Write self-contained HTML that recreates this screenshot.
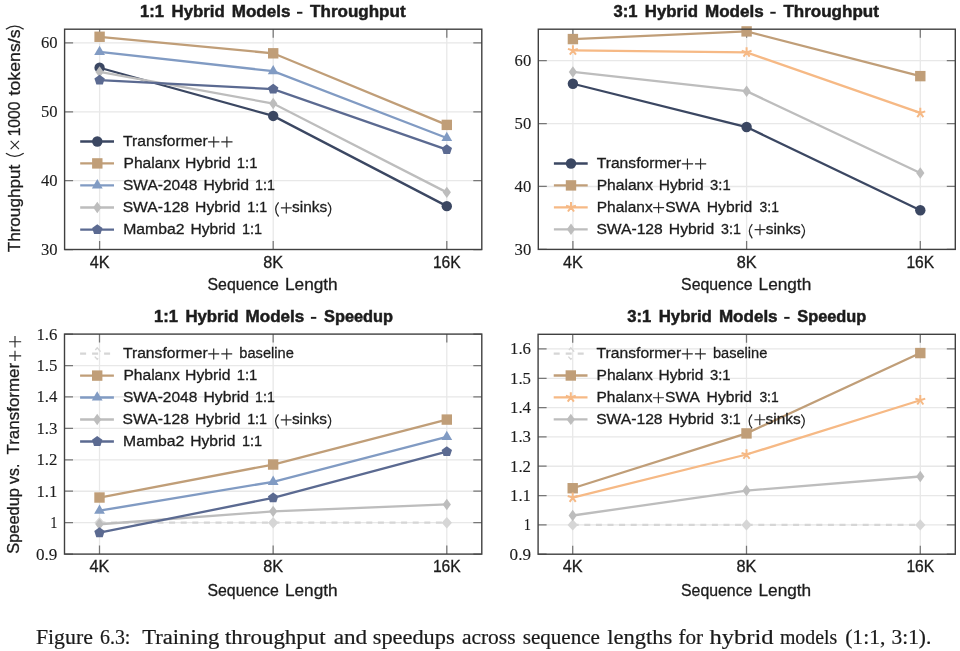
<!DOCTYPE html><html><head><meta charset="utf-8"><style>html,body{margin:0;padding:0;background:#fff;}svg{display:block;will-change:transform;}</style></head><body><svg width="960" height="651" viewBox="0 0 960 651">
<rect width="960" height="651" fill="#fff"/>
<path d="M64.60,180.66H481.80M64.60,111.81H481.80M64.60,42.97H481.80M99.60,29.20V249.50M273.20,29.20V249.50M446.80,29.20V249.50" stroke="#e8e8e8" stroke-width="1.3" fill="none"/>
<path d="M64.60,249.50h8.5M481.80,249.50h-8.5M64.60,180.66h8.5M481.80,180.66h-8.5M64.60,111.81h8.5M481.80,111.81h-8.5M64.60,42.97h8.5M481.80,42.97h-8.5M99.60,249.50v-8.5M99.60,29.20v8.5M273.20,249.50v-8.5M273.20,29.20v8.5M446.80,249.50v-8.5M446.80,29.20v8.5" stroke="#777" stroke-width="1.25" fill="none"/>
<path d="M99.60,67.75 L273.20,115.94 L446.80,206.13" stroke="#3b4762" stroke-width="2.3" fill="none"/>
<circle cx="99.60" cy="67.75" r="5.2" fill="#3b4762"/>
<circle cx="273.20" cy="115.94" r="5.2" fill="#3b4762"/>
<circle cx="446.80" cy="206.13" r="5.2" fill="#3b4762"/>
<path d="M99.60,36.77 L273.20,53.30 L446.80,124.89" stroke="#c09e78" stroke-width="2.3" fill="none"/>
<rect x="94.40" y="31.57" width="10.40" height="10.40" fill="#c09e78"/>
<rect x="268.00" y="48.10" width="10.40" height="10.40" fill="#c09e78"/>
<rect x="441.60" y="119.69" width="10.40" height="10.40" fill="#c09e78"/>
<path d="M99.60,51.92 L273.20,71.19 L446.80,137.97" stroke="#819bc3" stroke-width="2.3" fill="none"/>
<polygon points="99.60,45.68 94.20,55.04 105.00,55.04" fill="#819bc3"/>
<polygon points="273.20,64.95 267.80,74.31 278.60,74.31" fill="#819bc3"/>
<polygon points="446.80,131.73 441.40,141.09 452.20,141.09" fill="#819bc3"/>
<path d="M99.60,71.88 L273.20,103.55 L446.80,192.36" stroke="#bdbdbd" stroke-width="2.3" fill="none"/>
<polygon points="99.60,66.16 103.72,71.88 99.60,77.60 95.48,71.88" fill="#bdbdbd"/>
<polygon points="273.20,97.83 277.32,103.55 273.20,109.27 269.08,103.55" fill="#bdbdbd"/>
<polygon points="446.80,186.64 450.92,192.36 446.80,198.08 442.68,192.36" fill="#bdbdbd"/>
<path d="M99.60,80.14 L273.20,89.09 L446.80,149.68" stroke="#5b6a91" stroke-width="2.3" fill="none"/>
<polygon points="99.60,74.68 104.79,78.46 102.81,84.56 96.39,84.56 94.41,78.46" fill="#5b6a91"/>
<polygon points="273.20,83.63 278.39,87.41 276.41,93.51 269.99,93.51 268.01,87.41" fill="#5b6a91"/>
<polygon points="446.80,144.22 451.99,147.99 450.01,154.09 443.59,154.09 441.61,147.99" fill="#5b6a91"/>
<rect x="64.60" y="29.20" width="417.20" height="220.30" fill="none" stroke="#404040" stroke-width="1.4"/>
<text x="40.90" y="255.00" font-family='"Liberation Serif", serif' font-weight="normal" font-size="16.0" fill="#1c1c1c" stroke="#1c1c1c" stroke-width="0.12" textLength="16.60" lengthAdjust="spacingAndGlyphs">30</text>
<text x="40.90" y="186.16" font-family='"Liberation Serif", serif' font-weight="normal" font-size="16.0" fill="#1c1c1c" stroke="#1c1c1c" stroke-width="0.12" textLength="16.60" lengthAdjust="spacingAndGlyphs">40</text>
<text x="40.90" y="117.31" font-family='"Liberation Serif", serif' font-weight="normal" font-size="16.0" fill="#1c1c1c" stroke="#1c1c1c" stroke-width="0.12" textLength="16.60" lengthAdjust="spacingAndGlyphs">50</text>
<text x="40.90" y="48.47" font-family='"Liberation Serif", serif' font-weight="normal" font-size="16.0" fill="#1c1c1c" stroke="#1c1c1c" stroke-width="0.12" textLength="16.60" lengthAdjust="spacingAndGlyphs">60</text>
<text x="89.67" y="267.80" font-family='"Liberation Sans", sans-serif' font-weight="normal" font-size="16.0" fill="#1c1c1c" stroke="#1c1c1c" stroke-width="0.3" textLength="19.86" lengthAdjust="spacingAndGlyphs">4K</text>
<text x="263.25" y="267.80" font-family='"Liberation Sans", sans-serif' font-weight="normal" font-size="16.0" fill="#1c1c1c" stroke="#1c1c1c" stroke-width="0.3" textLength="19.91" lengthAdjust="spacingAndGlyphs">8K</text>
<text x="432.90" y="267.80" font-family='"Liberation Sans", sans-serif' font-weight="normal" font-size="16.0" fill="#1c1c1c" stroke="#1c1c1c" stroke-width="0.3" textLength="27.79" lengthAdjust="spacingAndGlyphs">16K</text>
<text x="207.50" y="290.40" font-family='"Liberation Sans", sans-serif' font-weight="normal" font-size="16.8" fill="#1c1c1c" stroke="#1c1c1c" stroke-width="0.3" textLength="71.38" lengthAdjust="spacingAndGlyphs">Sequence</text>
<text x="285.00" y="290.40" font-family='"Liberation Sans", sans-serif' font-weight="normal" font-size="16.8" fill="#1c1c1c" stroke="#1c1c1c" stroke-width="0.3" textLength="52.62" lengthAdjust="spacingAndGlyphs">Length</text>
<path d="M80.20,141.50H114.00" stroke="#3b4762" stroke-width="2.3" fill="none"/>
<circle cx="97.30" cy="141.50" r="5.2" fill="#3b4762"/>
<text x="123.05" y="145.80" font-family='"Liberation Sans", sans-serif' font-weight="normal" font-size="15.3" fill="#1c1c1c" stroke="#1c1c1c" stroke-width="0.3" textLength="84.56" lengthAdjust="spacingAndGlyphs">Transformer</text>
<path d="M208.10,141.80H219.40M213.75,136.40V147.40" stroke="#2a2a2a" stroke-width="1.15" fill="none"/>
<path d="M221.25,141.80H232.50M226.88,136.40V147.40" stroke="#2a2a2a" stroke-width="1.15" fill="none"/>
<path d="M80.20,163.40H114.00" stroke="#c09e78" stroke-width="2.3" fill="none"/>
<rect x="92.10" y="158.20" width="10.40" height="10.40" fill="#c09e78"/>
<text x="123.50" y="167.70" font-family='"Liberation Sans", sans-serif' font-weight="normal" font-size="15.3" fill="#1c1c1c" stroke="#1c1c1c" stroke-width="0.3" textLength="56.38" lengthAdjust="spacingAndGlyphs">Phalanx</text>
<text x="185.10" y="167.70" font-family='"Liberation Sans", sans-serif' font-weight="normal" font-size="15.3" fill="#1c1c1c" stroke="#1c1c1c" stroke-width="0.3" textLength="45.60" lengthAdjust="spacingAndGlyphs">Hybrid</text>
<text x="236.80" y="167.70" font-family='"Liberation Sans", sans-serif' font-weight="normal" font-size="15.3" fill="#1c1c1c" stroke="#1c1c1c" stroke-width="0.3" textLength="20.60" lengthAdjust="spacingAndGlyphs">1:1</text>
<path d="M80.20,185.30H114.00" stroke="#819bc3" stroke-width="2.3" fill="none"/>
<polygon points="97.30,179.06 91.90,188.42 102.70,188.42" fill="#819bc3"/>
<text x="123.00" y="189.60" font-family='"Liberation Sans", sans-serif' font-weight="normal" font-size="15.3" fill="#1c1c1c" stroke="#1c1c1c" stroke-width="0.3" textLength="74.41" lengthAdjust="spacingAndGlyphs">SWA-2048</text>
<text x="203.50" y="189.60" font-family='"Liberation Sans", sans-serif' font-weight="normal" font-size="15.3" fill="#1c1c1c" stroke="#1c1c1c" stroke-width="0.3" textLength="45.50" lengthAdjust="spacingAndGlyphs">Hybrid</text>
<text x="255.10" y="189.60" font-family='"Liberation Sans", sans-serif' font-weight="normal" font-size="15.3" fill="#1c1c1c" stroke="#1c1c1c" stroke-width="0.3" textLength="19.80" lengthAdjust="spacingAndGlyphs">1:1</text>
<path d="M80.20,207.50H114.00" stroke="#bdbdbd" stroke-width="2.3" fill="none"/>
<polygon points="97.30,201.78 101.42,207.50 97.30,213.22 93.18,207.50" fill="#bdbdbd"/>
<text x="122.70" y="211.80" font-family='"Liberation Sans", sans-serif' font-weight="normal" font-size="15.3" fill="#1c1c1c" stroke="#1c1c1c" stroke-width="0.3" textLength="66.40" lengthAdjust="spacingAndGlyphs">SWA-128</text>
<text x="195.10" y="211.80" font-family='"Liberation Sans", sans-serif' font-weight="normal" font-size="15.3" fill="#1c1c1c" stroke="#1c1c1c" stroke-width="0.3" textLength="45.40" lengthAdjust="spacingAndGlyphs">Hybrid</text>
<text x="247.30" y="211.80" font-family='"Liberation Sans", sans-serif' font-weight="normal" font-size="15.3" fill="#1c1c1c" stroke="#1c1c1c" stroke-width="0.3" textLength="19.80" lengthAdjust="spacingAndGlyphs">1:1</text>
<path d="M278.60,202.40Q272.60,209.45 278.60,216.50" stroke="#262626" stroke-width="1.25" fill="none"/>
<path d="M280.90,207.80H291.70M286.30,202.40V213.40" stroke="#2a2a2a" stroke-width="1.15" fill="none"/>
<text x="292.00" y="211.80" font-family='"Liberation Sans", sans-serif' font-weight="normal" font-size="15.3" fill="#1c1c1c" stroke="#1c1c1c" stroke-width="0.3" textLength="35.11" lengthAdjust="spacingAndGlyphs">sinks</text>
<path d="M327.80,202.40Q334.00,209.45 327.80,216.50" stroke="#262626" stroke-width="1.25" fill="none"/>
<path d="M80.20,229.60H114.00" stroke="#5b6a91" stroke-width="2.3" fill="none"/>
<polygon points="97.30,224.14 102.49,227.91 100.51,234.02 94.09,234.02 92.11,227.91" fill="#5b6a91"/>
<text x="123.20" y="233.90" font-family='"Liberation Sans", sans-serif' font-weight="normal" font-size="15.3" fill="#1c1c1c" stroke="#1c1c1c" stroke-width="0.3" textLength="61.26" lengthAdjust="spacingAndGlyphs">Mamba2</text>
<text x="190.40" y="233.90" font-family='"Liberation Sans", sans-serif' font-weight="normal" font-size="15.3" fill="#1c1c1c" stroke="#1c1c1c" stroke-width="0.3" textLength="45.10" lengthAdjust="spacingAndGlyphs">Hybrid</text>
<text x="242.00" y="233.90" font-family='"Liberation Sans", sans-serif' font-weight="normal" font-size="15.3" fill="#1c1c1c" stroke="#1c1c1c" stroke-width="0.3" textLength="20.10" lengthAdjust="spacingAndGlyphs">1:1</text>
<path d="M538.30,186.49H955.30M538.30,123.57H955.30M538.30,60.66H955.30M572.90,29.20V249.40M746.60,29.20V249.40M920.30,29.20V249.40" stroke="#e8e8e8" stroke-width="1.3" fill="none"/>
<path d="M538.30,249.40h8.5M955.30,249.40h-8.5M538.30,186.49h8.5M955.30,186.49h-8.5M538.30,123.57h8.5M955.30,123.57h-8.5M538.30,60.66h8.5M955.30,60.66h-8.5M572.90,249.40v-8.5M572.90,29.20v8.5M746.60,249.40v-8.5M746.60,29.20v8.5M920.30,249.40v-8.5M920.30,29.20v8.5" stroke="#777" stroke-width="1.25" fill="none"/>
<path d="M572.90,83.75 L746.60,127.03 L920.30,210.20" stroke="#3b4762" stroke-width="2.3" fill="none"/>
<circle cx="572.90" cy="83.75" r="5.2" fill="#3b4762"/>
<circle cx="746.60" cy="127.03" r="5.2" fill="#3b4762"/>
<circle cx="920.30" cy="210.20" r="5.2" fill="#3b4762"/>
<path d="M572.90,39.08 L746.60,31.40 L920.30,76.13" stroke="#c09e78" stroke-width="2.3" fill="none"/>
<rect x="567.70" y="33.88" width="10.40" height="10.40" fill="#c09e78"/>
<rect x="741.40" y="26.20" width="10.40" height="10.40" fill="#c09e78"/>
<rect x="915.10" y="70.93" width="10.40" height="10.40" fill="#c09e78"/>
<path d="M572.90,50.47 L746.60,52.35 L920.30,112.94" stroke="#f6b985" stroke-width="2.3" fill="none"/>
<path d="M572.90,50.47L572.90,45.27M572.90,50.47L577.85,48.86M572.90,50.47L575.96,54.67M572.90,50.47L569.84,54.67M572.90,50.47L567.95,48.86" stroke="#f6b985" stroke-width="2.0" fill="none"/>
<path d="M746.60,52.35L746.60,47.15M746.60,52.35L751.55,50.75M746.60,52.35L749.66,56.56M746.60,52.35L743.54,56.56M746.60,52.35L741.65,50.75" stroke="#f6b985" stroke-width="2.0" fill="none"/>
<path d="M920.30,112.94L920.30,107.74M920.30,112.94L925.25,111.33M920.30,112.94L923.36,117.15M920.30,112.94L917.24,117.15M920.30,112.94L915.35,111.33" stroke="#f6b985" stroke-width="2.0" fill="none"/>
<path d="M572.90,71.98 L746.60,91.17 L920.30,173.08" stroke="#bdbdbd" stroke-width="2.3" fill="none"/>
<polygon points="572.90,66.26 577.02,71.98 572.90,77.70 568.78,71.98" fill="#bdbdbd"/>
<polygon points="746.60,85.45 750.72,91.17 746.60,96.89 742.48,91.17" fill="#bdbdbd"/>
<polygon points="920.30,167.36 924.42,173.08 920.30,178.80 916.18,173.08" fill="#bdbdbd"/>
<rect x="538.30" y="29.20" width="417.00" height="220.20" fill="none" stroke="#404040" stroke-width="1.4"/>
<text x="514.60" y="254.90" font-family='"Liberation Serif", serif' font-weight="normal" font-size="16.0" fill="#1c1c1c" stroke="#1c1c1c" stroke-width="0.12" textLength="16.60" lengthAdjust="spacingAndGlyphs">30</text>
<text x="514.60" y="191.99" font-family='"Liberation Serif", serif' font-weight="normal" font-size="16.0" fill="#1c1c1c" stroke="#1c1c1c" stroke-width="0.12" textLength="16.60" lengthAdjust="spacingAndGlyphs">40</text>
<text x="514.60" y="129.07" font-family='"Liberation Serif", serif' font-weight="normal" font-size="16.0" fill="#1c1c1c" stroke="#1c1c1c" stroke-width="0.12" textLength="16.60" lengthAdjust="spacingAndGlyphs">50</text>
<text x="514.60" y="66.16" font-family='"Liberation Serif", serif' font-weight="normal" font-size="16.0" fill="#1c1c1c" stroke="#1c1c1c" stroke-width="0.12" textLength="16.60" lengthAdjust="spacingAndGlyphs">60</text>
<text x="562.97" y="267.80" font-family='"Liberation Sans", sans-serif' font-weight="normal" font-size="16.0" fill="#1c1c1c" stroke="#1c1c1c" stroke-width="0.3" textLength="19.86" lengthAdjust="spacingAndGlyphs">4K</text>
<text x="736.65" y="267.80" font-family='"Liberation Sans", sans-serif' font-weight="normal" font-size="16.0" fill="#1c1c1c" stroke="#1c1c1c" stroke-width="0.3" textLength="19.91" lengthAdjust="spacingAndGlyphs">8K</text>
<text x="906.40" y="267.80" font-family='"Liberation Sans", sans-serif' font-weight="normal" font-size="16.0" fill="#1c1c1c" stroke="#1c1c1c" stroke-width="0.3" textLength="27.79" lengthAdjust="spacingAndGlyphs">16K</text>
<text x="681.10" y="290.40" font-family='"Liberation Sans", sans-serif' font-weight="normal" font-size="16.8" fill="#1c1c1c" stroke="#1c1c1c" stroke-width="0.3" textLength="71.38" lengthAdjust="spacingAndGlyphs">Sequence</text>
<text x="758.60" y="290.40" font-family='"Liberation Sans", sans-serif' font-weight="normal" font-size="16.8" fill="#1c1c1c" stroke="#1c1c1c" stroke-width="0.3" textLength="52.62" lengthAdjust="spacingAndGlyphs">Length</text>
<path d="M553.90,163.50H587.70" stroke="#3b4762" stroke-width="2.3" fill="none"/>
<circle cx="571.00" cy="163.50" r="5.2" fill="#3b4762"/>
<text x="596.75" y="167.80" font-family='"Liberation Sans", sans-serif' font-weight="normal" font-size="15.3" fill="#1c1c1c" stroke="#1c1c1c" stroke-width="0.3" textLength="84.56" lengthAdjust="spacingAndGlyphs">Transformer</text>
<path d="M681.80,163.80H693.10M687.45,158.40V169.40" stroke="#2a2a2a" stroke-width="1.15" fill="none"/>
<path d="M694.95,163.80H706.20M700.57,158.40V169.40" stroke="#2a2a2a" stroke-width="1.15" fill="none"/>
<path d="M553.90,185.40H587.70" stroke="#c09e78" stroke-width="2.3" fill="none"/>
<rect x="565.80" y="180.20" width="10.40" height="10.40" fill="#c09e78"/>
<text x="596.70" y="189.70" font-family='"Liberation Sans", sans-serif' font-weight="normal" font-size="15.3" fill="#1c1c1c" stroke="#1c1c1c" stroke-width="0.3" textLength="56.38" lengthAdjust="spacingAndGlyphs">Phalanx</text>
<text x="658.70" y="189.70" font-family='"Liberation Sans", sans-serif' font-weight="normal" font-size="15.3" fill="#1c1c1c" stroke="#1c1c1c" stroke-width="0.3" textLength="44.90" lengthAdjust="spacingAndGlyphs">Hybrid</text>
<text x="710.10" y="189.70" font-family='"Liberation Sans", sans-serif' font-weight="normal" font-size="15.3" fill="#1c1c1c" stroke="#1c1c1c" stroke-width="0.3" textLength="20.60" lengthAdjust="spacingAndGlyphs">3:1</text>
<path d="M553.90,207.30H587.70" stroke="#f6b985" stroke-width="2.3" fill="none"/>
<path d="M571.00,207.30L571.00,202.10M571.00,207.30L575.95,205.69M571.00,207.30L574.06,211.51M571.00,207.30L567.94,211.51M571.00,207.30L566.05,205.69" stroke="#f6b985" stroke-width="2.0" fill="none"/>
<text x="596.70" y="211.60" font-family='"Liberation Sans", sans-serif' font-weight="normal" font-size="15.3" fill="#1c1c1c" stroke="#1c1c1c" stroke-width="0.3" textLength="55.98" lengthAdjust="spacingAndGlyphs">Phalanx</text>
<path d="M653.10,207.60H664.10M658.60,202.20V213.20" stroke="#2a2a2a" stroke-width="1.15" fill="none"/>
<text x="665.20" y="211.60" font-family='"Liberation Sans", sans-serif' font-weight="normal" font-size="15.3" fill="#1c1c1c" stroke="#1c1c1c" stroke-width="0.3" textLength="34.97" lengthAdjust="spacingAndGlyphs">SWA</text>
<text x="706.80" y="211.60" font-family='"Liberation Sans", sans-serif' font-weight="normal" font-size="15.3" fill="#1c1c1c" stroke="#1c1c1c" stroke-width="0.3" textLength="45.30" lengthAdjust="spacingAndGlyphs">Hybrid</text>
<text x="759.60" y="211.60" font-family='"Liberation Sans", sans-serif' font-weight="normal" font-size="15.3" fill="#1c1c1c" stroke="#1c1c1c" stroke-width="0.3" textLength="19.30" lengthAdjust="spacingAndGlyphs">3:1</text>
<path d="M553.90,229.30H587.70" stroke="#bdbdbd" stroke-width="2.3" fill="none"/>
<polygon points="571.00,223.58 575.12,229.30 571.00,235.02 566.88,229.30" fill="#bdbdbd"/>
<text x="596.40" y="233.60" font-family='"Liberation Sans", sans-serif' font-weight="normal" font-size="15.3" fill="#1c1c1c" stroke="#1c1c1c" stroke-width="0.3" textLength="66.40" lengthAdjust="spacingAndGlyphs">SWA-128</text>
<text x="668.80" y="233.60" font-family='"Liberation Sans", sans-serif' font-weight="normal" font-size="15.3" fill="#1c1c1c" stroke="#1c1c1c" stroke-width="0.3" textLength="45.40" lengthAdjust="spacingAndGlyphs">Hybrid</text>
<text x="721.00" y="233.60" font-family='"Liberation Sans", sans-serif' font-weight="normal" font-size="15.3" fill="#1c1c1c" stroke="#1c1c1c" stroke-width="0.3" textLength="19.80" lengthAdjust="spacingAndGlyphs">3:1</text>
<path d="M752.30,224.20Q746.30,231.25 752.30,238.30" stroke="#262626" stroke-width="1.25" fill="none"/>
<path d="M754.60,229.60H765.40M760.00,224.20V235.20" stroke="#2a2a2a" stroke-width="1.15" fill="none"/>
<text x="765.70" y="233.60" font-family='"Liberation Sans", sans-serif' font-weight="normal" font-size="15.3" fill="#1c1c1c" stroke="#1c1c1c" stroke-width="0.3" textLength="35.11" lengthAdjust="spacingAndGlyphs">sinks</text>
<path d="M801.50,224.20Q807.70,231.25 801.50,238.30" stroke="#262626" stroke-width="1.25" fill="none"/>
<path d="M64.50,522.67H481.80M64.50,491.24H481.80M64.50,459.81H481.80M64.50,428.39H481.80M64.50,396.96H481.80M64.50,365.53H481.80M99.50,334.10V554.10M273.15,334.10V554.10M446.80,334.10V554.10" stroke="#e8e8e8" stroke-width="1.3" fill="none"/>
<path d="M64.50,554.10h8.5M481.80,554.10h-8.5M64.50,522.67h8.5M481.80,522.67h-8.5M64.50,491.24h8.5M481.80,491.24h-8.5M64.50,459.81h8.5M481.80,459.81h-8.5M64.50,428.39h8.5M481.80,428.39h-8.5M64.50,396.96h8.5M481.80,396.96h-8.5M64.50,365.53h8.5M481.80,365.53h-8.5M64.50,334.10h8.5M481.80,334.10h-8.5M99.50,554.10v-8.5M99.50,334.10v8.5M273.15,554.10v-8.5M273.15,334.10v8.5M446.80,554.10v-8.5M446.80,334.10v8.5" stroke="#777" stroke-width="1.25" fill="none"/>
<path d="M99.50,522.67 L273.15,522.67 L446.80,522.67" stroke="#d6d6d6" stroke-width="2.3" fill="none" stroke-dasharray="6,5.6"/>
<polygon points="99.50,516.95 104.65,522.67 99.50,528.39 94.35,522.67" fill="#d6d6d6"/>
<polygon points="273.15,516.95 278.30,522.67 273.15,528.39 268.00,522.67" fill="#d6d6d6"/>
<polygon points="446.80,516.95 451.95,522.67 446.80,528.39 441.65,522.67" fill="#d6d6d6"/>
<path d="M99.50,497.53 L273.15,464.53 L446.80,419.59" stroke="#c09e78" stroke-width="2.3" fill="none"/>
<rect x="94.30" y="492.33" width="10.40" height="10.40" fill="#c09e78"/>
<rect x="267.95" y="459.33" width="10.40" height="10.40" fill="#c09e78"/>
<rect x="441.60" y="414.39" width="10.40" height="10.40" fill="#c09e78"/>
<path d="M99.50,510.73 L273.15,481.81 L446.80,436.87" stroke="#819bc3" stroke-width="2.3" fill="none"/>
<polygon points="99.50,504.49 94.10,513.85 104.90,513.85" fill="#819bc3"/>
<polygon points="273.15,475.57 267.75,484.93 278.55,484.93" fill="#819bc3"/>
<polygon points="446.80,430.63 441.40,439.99 452.20,439.99" fill="#819bc3"/>
<path d="M99.50,524.24 L273.15,511.36 L446.80,504.44" stroke="#bdbdbd" stroke-width="2.3" fill="none"/>
<polygon points="99.50,518.52 103.62,524.24 99.50,529.96 95.38,524.24" fill="#bdbdbd"/>
<polygon points="273.15,505.64 277.27,511.36 273.15,517.08 269.03,511.36" fill="#bdbdbd"/>
<polygon points="446.80,498.72 450.92,504.44 446.80,510.16 442.68,504.44" fill="#bdbdbd"/>
<path d="M99.50,532.73 L273.15,497.84 L446.80,451.64" stroke="#5b6a91" stroke-width="2.3" fill="none"/>
<polygon points="99.50,527.27 104.69,531.04 102.71,537.15 96.29,537.15 94.31,531.04" fill="#5b6a91"/>
<polygon points="273.15,492.38 278.34,496.16 276.36,502.26 269.94,502.26 267.96,496.16" fill="#5b6a91"/>
<polygon points="446.80,446.18 451.99,449.96 450.01,456.06 443.59,456.06 441.61,449.96" fill="#5b6a91"/>
<rect x="64.50" y="334.10" width="417.30" height="220.00" fill="none" stroke="#404040" stroke-width="1.4"/>
<text x="36.00" y="559.60" font-family='"Liberation Serif", serif' font-weight="normal" font-size="16.0" fill="#1c1c1c" stroke="#1c1c1c" stroke-width="0.12" textLength="21.40" lengthAdjust="spacingAndGlyphs">0.9</text>
<text x="50.20" y="528.17" font-family='"Liberation Serif", serif' font-weight="normal" font-size="16.0" fill="#1c1c1c" stroke="#1c1c1c" stroke-width="0.12" textLength="7.20" lengthAdjust="spacingAndGlyphs">1</text>
<text x="36.40" y="496.74" font-family='"Liberation Serif", serif' font-weight="normal" font-size="16.0" fill="#1c1c1c" stroke="#1c1c1c" stroke-width="0.12" textLength="21.00" lengthAdjust="spacingAndGlyphs">1.1</text>
<text x="36.40" y="465.31" font-family='"Liberation Serif", serif' font-weight="normal" font-size="16.0" fill="#1c1c1c" stroke="#1c1c1c" stroke-width="0.12" textLength="21.00" lengthAdjust="spacingAndGlyphs">1.2</text>
<text x="36.40" y="433.89" font-family='"Liberation Serif", serif' font-weight="normal" font-size="16.0" fill="#1c1c1c" stroke="#1c1c1c" stroke-width="0.12" textLength="21.00" lengthAdjust="spacingAndGlyphs">1.3</text>
<text x="36.40" y="402.46" font-family='"Liberation Serif", serif' font-weight="normal" font-size="16.0" fill="#1c1c1c" stroke="#1c1c1c" stroke-width="0.12" textLength="21.00" lengthAdjust="spacingAndGlyphs">1.4</text>
<text x="36.40" y="371.03" font-family='"Liberation Serif", serif' font-weight="normal" font-size="16.0" fill="#1c1c1c" stroke="#1c1c1c" stroke-width="0.12" textLength="21.00" lengthAdjust="spacingAndGlyphs">1.5</text>
<text x="36.40" y="339.60" font-family='"Liberation Serif", serif' font-weight="normal" font-size="16.0" fill="#1c1c1c" stroke="#1c1c1c" stroke-width="0.12" textLength="21.00" lengthAdjust="spacingAndGlyphs">1.6</text>
<text x="89.58" y="572.20" font-family='"Liberation Sans", sans-serif' font-weight="normal" font-size="16.0" fill="#1c1c1c" stroke="#1c1c1c" stroke-width="0.3" textLength="19.86" lengthAdjust="spacingAndGlyphs">4K</text>
<text x="263.20" y="572.20" font-family='"Liberation Sans", sans-serif' font-weight="normal" font-size="16.0" fill="#1c1c1c" stroke="#1c1c1c" stroke-width="0.3" textLength="19.91" lengthAdjust="spacingAndGlyphs">8K</text>
<text x="432.90" y="572.20" font-family='"Liberation Sans", sans-serif' font-weight="normal" font-size="16.0" fill="#1c1c1c" stroke="#1c1c1c" stroke-width="0.3" textLength="27.79" lengthAdjust="spacingAndGlyphs">16K</text>
<text x="207.45" y="595.50" font-family='"Liberation Sans", sans-serif' font-weight="normal" font-size="16.8" fill="#1c1c1c" stroke="#1c1c1c" stroke-width="0.3" textLength="71.38" lengthAdjust="spacingAndGlyphs">Sequence</text>
<text x="284.95" y="595.50" font-family='"Liberation Sans", sans-serif' font-weight="normal" font-size="16.8" fill="#1c1c1c" stroke="#1c1c1c" stroke-width="0.3" textLength="52.62" lengthAdjust="spacingAndGlyphs">Length</text>
<path d="M80.10,353.60H113.90" stroke="#d6d6d6" stroke-width="2.3" fill="none" stroke-dasharray="6,6"/>
<polygon points="97.20,347.88 102.35,353.60 97.20,359.32 92.05,353.60" fill="none" stroke="#d6d6d6" stroke-width="1.4" stroke-dasharray="5,9"/>
<text x="122.95" y="357.90" font-family='"Liberation Sans", sans-serif' font-weight="normal" font-size="15.3" fill="#1c1c1c" stroke="#1c1c1c" stroke-width="0.3" textLength="84.76" lengthAdjust="spacingAndGlyphs">Transformer</text>
<path d="M208.20,353.90H219.20M213.70,348.50V359.50" stroke="#2a2a2a" stroke-width="1.15" fill="none"/>
<path d="M221.30,353.90H232.20M226.75,348.50V359.50" stroke="#2a2a2a" stroke-width="1.15" fill="none"/>
<text x="239.30" y="357.90" font-family='"Liberation Sans", sans-serif' font-weight="normal" font-size="15.3" fill="#1c1c1c" stroke="#1c1c1c" stroke-width="0.3" textLength="54.50" lengthAdjust="spacingAndGlyphs">baseline</text>
<path d="M80.10,375.60H113.90" stroke="#c09e78" stroke-width="2.3" fill="none"/>
<rect x="92.00" y="370.40" width="10.40" height="10.40" fill="#c09e78"/>
<text x="123.40" y="379.90" font-family='"Liberation Sans", sans-serif' font-weight="normal" font-size="15.3" fill="#1c1c1c" stroke="#1c1c1c" stroke-width="0.3" textLength="56.38" lengthAdjust="spacingAndGlyphs">Phalanx</text>
<text x="185.00" y="379.90" font-family='"Liberation Sans", sans-serif' font-weight="normal" font-size="15.3" fill="#1c1c1c" stroke="#1c1c1c" stroke-width="0.3" textLength="45.60" lengthAdjust="spacingAndGlyphs">Hybrid</text>
<text x="236.70" y="379.90" font-family='"Liberation Sans", sans-serif' font-weight="normal" font-size="15.3" fill="#1c1c1c" stroke="#1c1c1c" stroke-width="0.3" textLength="20.60" lengthAdjust="spacingAndGlyphs">1:1</text>
<path d="M80.10,397.50H113.90" stroke="#819bc3" stroke-width="2.3" fill="none"/>
<polygon points="97.20,391.26 91.80,400.62 102.60,400.62" fill="#819bc3"/>
<text x="122.90" y="401.80" font-family='"Liberation Sans", sans-serif' font-weight="normal" font-size="15.3" fill="#1c1c1c" stroke="#1c1c1c" stroke-width="0.3" textLength="74.41" lengthAdjust="spacingAndGlyphs">SWA-2048</text>
<text x="203.40" y="401.80" font-family='"Liberation Sans", sans-serif' font-weight="normal" font-size="15.3" fill="#1c1c1c" stroke="#1c1c1c" stroke-width="0.3" textLength="45.50" lengthAdjust="spacingAndGlyphs">Hybrid</text>
<text x="255.00" y="401.80" font-family='"Liberation Sans", sans-serif' font-weight="normal" font-size="15.3" fill="#1c1c1c" stroke="#1c1c1c" stroke-width="0.3" textLength="19.80" lengthAdjust="spacingAndGlyphs">1:1</text>
<path d="M80.10,419.50H113.90" stroke="#bdbdbd" stroke-width="2.3" fill="none"/>
<polygon points="97.20,413.78 101.32,419.50 97.20,425.22 93.08,419.50" fill="#bdbdbd"/>
<text x="122.60" y="423.80" font-family='"Liberation Sans", sans-serif' font-weight="normal" font-size="15.3" fill="#1c1c1c" stroke="#1c1c1c" stroke-width="0.3" textLength="66.40" lengthAdjust="spacingAndGlyphs">SWA-128</text>
<text x="195.00" y="423.80" font-family='"Liberation Sans", sans-serif' font-weight="normal" font-size="15.3" fill="#1c1c1c" stroke="#1c1c1c" stroke-width="0.3" textLength="45.40" lengthAdjust="spacingAndGlyphs">Hybrid</text>
<text x="247.20" y="423.80" font-family='"Liberation Sans", sans-serif' font-weight="normal" font-size="15.3" fill="#1c1c1c" stroke="#1c1c1c" stroke-width="0.3" textLength="19.80" lengthAdjust="spacingAndGlyphs">1:1</text>
<path d="M278.50,414.40Q272.50,421.45 278.50,428.50" stroke="#262626" stroke-width="1.25" fill="none"/>
<path d="M280.80,419.80H291.60M286.20,414.40V425.40" stroke="#2a2a2a" stroke-width="1.15" fill="none"/>
<text x="291.90" y="423.80" font-family='"Liberation Sans", sans-serif' font-weight="normal" font-size="15.3" fill="#1c1c1c" stroke="#1c1c1c" stroke-width="0.3" textLength="35.11" lengthAdjust="spacingAndGlyphs">sinks</text>
<path d="M327.70,414.40Q333.90,421.45 327.70,428.50" stroke="#262626" stroke-width="1.25" fill="none"/>
<path d="M80.10,441.50H113.90" stroke="#5b6a91" stroke-width="2.3" fill="none"/>
<polygon points="97.20,436.04 102.39,439.81 100.41,445.92 93.99,445.92 92.01,439.81" fill="#5b6a91"/>
<text x="123.10" y="445.80" font-family='"Liberation Sans", sans-serif' font-weight="normal" font-size="15.3" fill="#1c1c1c" stroke="#1c1c1c" stroke-width="0.3" textLength="61.26" lengthAdjust="spacingAndGlyphs">Mamba2</text>
<text x="190.30" y="445.80" font-family='"Liberation Sans", sans-serif' font-weight="normal" font-size="15.3" fill="#1c1c1c" stroke="#1c1c1c" stroke-width="0.3" textLength="45.10" lengthAdjust="spacingAndGlyphs">Hybrid</text>
<text x="241.90" y="445.80" font-family='"Liberation Sans", sans-serif' font-weight="normal" font-size="15.3" fill="#1c1c1c" stroke="#1c1c1c" stroke-width="0.3" textLength="20.10" lengthAdjust="spacingAndGlyphs">1:1</text>
<path d="M538.10,524.88H955.30M538.10,495.56H955.30M538.10,466.24H955.30M538.10,436.92H955.30M538.10,407.60H955.30M538.10,378.28H955.30M538.10,348.96H955.30M572.70,334.30V554.20M746.50,334.30V554.20M920.30,334.30V554.20" stroke="#e8e8e8" stroke-width="1.3" fill="none"/>
<path d="M538.10,554.20h8.5M955.30,554.20h-8.5M538.10,524.88h8.5M955.30,524.88h-8.5M538.10,495.56h8.5M955.30,495.56h-8.5M538.10,466.24h8.5M955.30,466.24h-8.5M538.10,436.92h8.5M955.30,436.92h-8.5M538.10,407.60h8.5M955.30,407.60h-8.5M538.10,378.28h8.5M955.30,378.28h-8.5M538.10,348.96h8.5M955.30,348.96h-8.5M572.70,554.20v-8.5M572.70,334.30v8.5M746.50,554.20v-8.5M746.50,334.30v8.5M920.30,554.20v-8.5M920.30,334.30v8.5" stroke="#777" stroke-width="1.25" fill="none"/>
<path d="M572.70,524.88 L746.50,524.88 L920.30,524.88" stroke="#d6d6d6" stroke-width="2.3" fill="none" stroke-dasharray="6,5.6"/>
<polygon points="572.70,519.16 577.85,524.88 572.70,530.60 567.55,524.88" fill="#d6d6d6"/>
<polygon points="746.50,519.16 751.65,524.88 746.50,530.60 741.35,524.88" fill="#d6d6d6"/>
<polygon points="920.30,519.16 925.45,524.88 920.30,530.60 915.15,524.88" fill="#d6d6d6"/>
<path d="M572.70,488.23 L746.50,433.40 L920.30,353.06" stroke="#c09e78" stroke-width="2.3" fill="none"/>
<rect x="567.50" y="483.03" width="10.40" height="10.40" fill="#c09e78"/>
<rect x="741.30" y="428.20" width="10.40" height="10.40" fill="#c09e78"/>
<rect x="915.10" y="347.86" width="10.40" height="10.40" fill="#c09e78"/>
<path d="M572.70,497.61 L746.50,454.51 L920.30,400.27" stroke="#f6b985" stroke-width="2.3" fill="none"/>
<path d="M572.70,497.61L572.70,492.41M572.70,497.61L577.65,496.01M572.70,497.61L575.76,501.82M572.70,497.61L569.64,501.82M572.70,497.61L567.75,496.01" stroke="#f6b985" stroke-width="2.0" fill="none"/>
<path d="M746.50,454.51L746.50,449.31M746.50,454.51L751.45,452.91M746.50,454.51L749.56,458.72M746.50,454.51L743.44,458.72M746.50,454.51L741.55,452.91" stroke="#f6b985" stroke-width="2.0" fill="none"/>
<path d="M920.30,400.27L920.30,395.07M920.30,400.27L925.25,398.66M920.30,400.27L923.36,404.48M920.30,400.27L917.24,404.48M920.30,400.27L915.35,398.66" stroke="#f6b985" stroke-width="2.0" fill="none"/>
<path d="M572.70,515.50 L746.50,490.58 L920.30,476.50" stroke="#bdbdbd" stroke-width="2.3" fill="none"/>
<polygon points="572.70,509.78 576.82,515.50 572.70,521.22 568.58,515.50" fill="#bdbdbd"/>
<polygon points="746.50,484.86 750.62,490.58 746.50,496.30 742.38,490.58" fill="#bdbdbd"/>
<polygon points="920.30,470.78 924.42,476.50 920.30,482.22 916.18,476.50" fill="#bdbdbd"/>
<rect x="538.10" y="334.30" width="417.20" height="219.90" fill="none" stroke="#404040" stroke-width="1.4"/>
<text x="509.60" y="559.70" font-family='"Liberation Serif", serif' font-weight="normal" font-size="16.0" fill="#1c1c1c" stroke="#1c1c1c" stroke-width="0.12" textLength="21.40" lengthAdjust="spacingAndGlyphs">0.9</text>
<text x="523.80" y="530.38" font-family='"Liberation Serif", serif' font-weight="normal" font-size="16.0" fill="#1c1c1c" stroke="#1c1c1c" stroke-width="0.12" textLength="7.20" lengthAdjust="spacingAndGlyphs">1</text>
<text x="510.00" y="501.06" font-family='"Liberation Serif", serif' font-weight="normal" font-size="16.0" fill="#1c1c1c" stroke="#1c1c1c" stroke-width="0.12" textLength="21.00" lengthAdjust="spacingAndGlyphs">1.1</text>
<text x="510.00" y="471.74" font-family='"Liberation Serif", serif' font-weight="normal" font-size="16.0" fill="#1c1c1c" stroke="#1c1c1c" stroke-width="0.12" textLength="21.00" lengthAdjust="spacingAndGlyphs">1.2</text>
<text x="510.00" y="442.42" font-family='"Liberation Serif", serif' font-weight="normal" font-size="16.0" fill="#1c1c1c" stroke="#1c1c1c" stroke-width="0.12" textLength="21.00" lengthAdjust="spacingAndGlyphs">1.3</text>
<text x="510.00" y="413.10" font-family='"Liberation Serif", serif' font-weight="normal" font-size="16.0" fill="#1c1c1c" stroke="#1c1c1c" stroke-width="0.12" textLength="21.00" lengthAdjust="spacingAndGlyphs">1.4</text>
<text x="510.00" y="383.78" font-family='"Liberation Serif", serif' font-weight="normal" font-size="16.0" fill="#1c1c1c" stroke="#1c1c1c" stroke-width="0.12" textLength="21.00" lengthAdjust="spacingAndGlyphs">1.5</text>
<text x="510.00" y="354.46" font-family='"Liberation Serif", serif' font-weight="normal" font-size="16.0" fill="#1c1c1c" stroke="#1c1c1c" stroke-width="0.12" textLength="21.00" lengthAdjust="spacingAndGlyphs">1.6</text>
<text x="562.77" y="572.20" font-family='"Liberation Sans", sans-serif' font-weight="normal" font-size="16.0" fill="#1c1c1c" stroke="#1c1c1c" stroke-width="0.3" textLength="19.86" lengthAdjust="spacingAndGlyphs">4K</text>
<text x="736.55" y="572.20" font-family='"Liberation Sans", sans-serif' font-weight="normal" font-size="16.0" fill="#1c1c1c" stroke="#1c1c1c" stroke-width="0.3" textLength="19.91" lengthAdjust="spacingAndGlyphs">8K</text>
<text x="906.40" y="572.20" font-family='"Liberation Sans", sans-serif' font-weight="normal" font-size="16.0" fill="#1c1c1c" stroke="#1c1c1c" stroke-width="0.3" textLength="27.79" lengthAdjust="spacingAndGlyphs">16K</text>
<text x="681.00" y="595.50" font-family='"Liberation Sans", sans-serif' font-weight="normal" font-size="16.8" fill="#1c1c1c" stroke="#1c1c1c" stroke-width="0.3" textLength="71.38" lengthAdjust="spacingAndGlyphs">Sequence</text>
<text x="758.50" y="595.50" font-family='"Liberation Sans", sans-serif' font-weight="normal" font-size="16.8" fill="#1c1c1c" stroke="#1c1c1c" stroke-width="0.3" textLength="52.62" lengthAdjust="spacingAndGlyphs">Length</text>
<path d="M553.70,353.60H587.50" stroke="#d6d6d6" stroke-width="2.3" fill="none" stroke-dasharray="6,6"/>
<polygon points="570.80,347.88 575.95,353.60 570.80,359.32 565.65,353.60" fill="none" stroke="#d6d6d6" stroke-width="1.4" stroke-dasharray="5,9"/>
<text x="596.55" y="357.90" font-family='"Liberation Sans", sans-serif' font-weight="normal" font-size="15.3" fill="#1c1c1c" stroke="#1c1c1c" stroke-width="0.3" textLength="84.76" lengthAdjust="spacingAndGlyphs">Transformer</text>
<path d="M681.80,353.90H692.80M687.30,348.50V359.50" stroke="#2a2a2a" stroke-width="1.15" fill="none"/>
<path d="M694.90,353.90H705.80M700.35,348.50V359.50" stroke="#2a2a2a" stroke-width="1.15" fill="none"/>
<text x="712.90" y="357.90" font-family='"Liberation Sans", sans-serif' font-weight="normal" font-size="15.3" fill="#1c1c1c" stroke="#1c1c1c" stroke-width="0.3" textLength="54.50" lengthAdjust="spacingAndGlyphs">baseline</text>
<path d="M553.70,375.50H587.50" stroke="#c09e78" stroke-width="2.3" fill="none"/>
<rect x="565.60" y="370.30" width="10.40" height="10.40" fill="#c09e78"/>
<text x="596.50" y="379.80" font-family='"Liberation Sans", sans-serif' font-weight="normal" font-size="15.3" fill="#1c1c1c" stroke="#1c1c1c" stroke-width="0.3" textLength="56.38" lengthAdjust="spacingAndGlyphs">Phalanx</text>
<text x="658.50" y="379.80" font-family='"Liberation Sans", sans-serif' font-weight="normal" font-size="15.3" fill="#1c1c1c" stroke="#1c1c1c" stroke-width="0.3" textLength="44.90" lengthAdjust="spacingAndGlyphs">Hybrid</text>
<text x="709.90" y="379.80" font-family='"Liberation Sans", sans-serif' font-weight="normal" font-size="15.3" fill="#1c1c1c" stroke="#1c1c1c" stroke-width="0.3" textLength="20.60" lengthAdjust="spacingAndGlyphs">3:1</text>
<path d="M553.70,397.40H587.50" stroke="#f6b985" stroke-width="2.3" fill="none"/>
<path d="M570.80,397.40L570.80,392.20M570.80,397.40L575.75,395.79M570.80,397.40L573.86,401.61M570.80,397.40L567.74,401.61M570.80,397.40L565.85,395.79" stroke="#f6b985" stroke-width="2.0" fill="none"/>
<text x="596.50" y="401.70" font-family='"Liberation Sans", sans-serif' font-weight="normal" font-size="15.3" fill="#1c1c1c" stroke="#1c1c1c" stroke-width="0.3" textLength="55.98" lengthAdjust="spacingAndGlyphs">Phalanx</text>
<path d="M652.90,397.70H663.90M658.40,392.30V403.30" stroke="#2a2a2a" stroke-width="1.15" fill="none"/>
<text x="665.00" y="401.70" font-family='"Liberation Sans", sans-serif' font-weight="normal" font-size="15.3" fill="#1c1c1c" stroke="#1c1c1c" stroke-width="0.3" textLength="34.97" lengthAdjust="spacingAndGlyphs">SWA</text>
<text x="706.60" y="401.70" font-family='"Liberation Sans", sans-serif' font-weight="normal" font-size="15.3" fill="#1c1c1c" stroke="#1c1c1c" stroke-width="0.3" textLength="45.30" lengthAdjust="spacingAndGlyphs">Hybrid</text>
<text x="759.40" y="401.70" font-family='"Liberation Sans", sans-serif' font-weight="normal" font-size="15.3" fill="#1c1c1c" stroke="#1c1c1c" stroke-width="0.3" textLength="19.30" lengthAdjust="spacingAndGlyphs">3:1</text>
<path d="M553.70,419.40H587.50" stroke="#bdbdbd" stroke-width="2.3" fill="none"/>
<polygon points="570.80,413.68 574.92,419.40 570.80,425.12 566.68,419.40" fill="#bdbdbd"/>
<text x="596.20" y="423.70" font-family='"Liberation Sans", sans-serif' font-weight="normal" font-size="15.3" fill="#1c1c1c" stroke="#1c1c1c" stroke-width="0.3" textLength="66.40" lengthAdjust="spacingAndGlyphs">SWA-128</text>
<text x="668.60" y="423.70" font-family='"Liberation Sans", sans-serif' font-weight="normal" font-size="15.3" fill="#1c1c1c" stroke="#1c1c1c" stroke-width="0.3" textLength="45.40" lengthAdjust="spacingAndGlyphs">Hybrid</text>
<text x="720.80" y="423.70" font-family='"Liberation Sans", sans-serif' font-weight="normal" font-size="15.3" fill="#1c1c1c" stroke="#1c1c1c" stroke-width="0.3" textLength="19.80" lengthAdjust="spacingAndGlyphs">3:1</text>
<path d="M752.10,414.30Q746.10,421.35 752.10,428.40" stroke="#262626" stroke-width="1.25" fill="none"/>
<path d="M754.40,419.70H765.20M759.80,414.30V425.30" stroke="#2a2a2a" stroke-width="1.15" fill="none"/>
<text x="765.50" y="423.70" font-family='"Liberation Sans", sans-serif' font-weight="normal" font-size="15.3" fill="#1c1c1c" stroke="#1c1c1c" stroke-width="0.3" textLength="35.11" lengthAdjust="spacingAndGlyphs">sinks</text>
<path d="M801.30,414.30Q807.50,421.35 801.30,428.40" stroke="#262626" stroke-width="1.25" fill="none"/>
<text x="140.10" y="16.80" font-family='"Liberation Sans", sans-serif' font-weight="bold" font-size="16.8" fill="#1c1c1c" stroke="#1c1c1c" stroke-width="0.5" textLength="24.01" lengthAdjust="spacingAndGlyphs">1:1</text>
<text x="171.50" y="16.80" font-family='"Liberation Sans", sans-serif' font-weight="bold" font-size="16.8" fill="#1c1c1c" stroke="#1c1c1c" stroke-width="0.5" textLength="53.19" lengthAdjust="spacingAndGlyphs">Hybrid</text>
<text x="231.70" y="16.80" font-family='"Liberation Sans", sans-serif' font-weight="bold" font-size="16.8" fill="#1c1c1c" stroke="#1c1c1c" stroke-width="0.5" textLength="58.70" lengthAdjust="spacingAndGlyphs">Models</text>
<rect x="297.00" y="11.80" width="5.4" height="1.9" fill="#1c1c1c"/>
<text x="310.10" y="16.80" font-family='"Liberation Sans", sans-serif' font-weight="bold" font-size="16.8" fill="#1c1c1c" stroke="#1c1c1c" stroke-width="0.5" textLength="95.48" lengthAdjust="spacingAndGlyphs">Throughput</text>
<text x="613.40" y="16.80" font-family='"Liberation Sans", sans-serif' font-weight="bold" font-size="16.8" fill="#1c1c1c" stroke="#1c1c1c" stroke-width="0.5" textLength="24.01" lengthAdjust="spacingAndGlyphs">3:1</text>
<text x="644.80" y="16.80" font-family='"Liberation Sans", sans-serif' font-weight="bold" font-size="16.8" fill="#1c1c1c" stroke="#1c1c1c" stroke-width="0.5" textLength="53.19" lengthAdjust="spacingAndGlyphs">Hybrid</text>
<text x="705.00" y="16.80" font-family='"Liberation Sans", sans-serif' font-weight="bold" font-size="16.8" fill="#1c1c1c" stroke="#1c1c1c" stroke-width="0.5" textLength="58.70" lengthAdjust="spacingAndGlyphs">Models</text>
<rect x="770.30" y="11.80" width="5.4" height="1.9" fill="#1c1c1c"/>
<text x="783.40" y="16.80" font-family='"Liberation Sans", sans-serif' font-weight="bold" font-size="16.8" fill="#1c1c1c" stroke="#1c1c1c" stroke-width="0.5" textLength="95.48" lengthAdjust="spacingAndGlyphs">Throughput</text>
<text x="154.00" y="321.90" font-family='"Liberation Sans", sans-serif' font-weight="bold" font-size="16.8" fill="#1c1c1c" stroke="#1c1c1c" stroke-width="0.5" textLength="24.01" lengthAdjust="spacingAndGlyphs">1:1</text>
<text x="185.40" y="321.90" font-family='"Liberation Sans", sans-serif' font-weight="bold" font-size="16.8" fill="#1c1c1c" stroke="#1c1c1c" stroke-width="0.5" textLength="53.19" lengthAdjust="spacingAndGlyphs">Hybrid</text>
<text x="245.60" y="321.90" font-family='"Liberation Sans", sans-serif' font-weight="bold" font-size="16.8" fill="#1c1c1c" stroke="#1c1c1c" stroke-width="0.5" textLength="58.70" lengthAdjust="spacingAndGlyphs">Models</text>
<rect x="310.90" y="316.90" width="5.4" height="1.9" fill="#1c1c1c"/>
<text x="324.00" y="321.90" font-family='"Liberation Sans", sans-serif' font-weight="bold" font-size="16.8" fill="#1c1c1c" stroke="#1c1c1c" stroke-width="0.5" textLength="69.00" lengthAdjust="spacingAndGlyphs">Speedup</text>
<text x="627.30" y="321.90" font-family='"Liberation Sans", sans-serif' font-weight="bold" font-size="16.8" fill="#1c1c1c" stroke="#1c1c1c" stroke-width="0.5" textLength="24.01" lengthAdjust="spacingAndGlyphs">3:1</text>
<text x="658.70" y="321.90" font-family='"Liberation Sans", sans-serif' font-weight="bold" font-size="16.8" fill="#1c1c1c" stroke="#1c1c1c" stroke-width="0.5" textLength="53.19" lengthAdjust="spacingAndGlyphs">Hybrid</text>
<text x="718.90" y="321.90" font-family='"Liberation Sans", sans-serif' font-weight="bold" font-size="16.8" fill="#1c1c1c" stroke="#1c1c1c" stroke-width="0.5" textLength="58.70" lengthAdjust="spacingAndGlyphs">Models</text>
<rect x="784.20" y="316.90" width="5.4" height="1.9" fill="#1c1c1c"/>
<text x="797.30" y="321.90" font-family='"Liberation Sans", sans-serif' font-weight="bold" font-size="16.8" fill="#1c1c1c" stroke="#1c1c1c" stroke-width="0.5" textLength="69.00" lengthAdjust="spacingAndGlyphs">Speedup</text>
<g transform="translate(19.50,0) rotate(-90)">
<text x="-252.30" y="0.00" font-family='"Liberation Sans", sans-serif' font-weight="normal" font-size="17.2" fill="#1c1c1c" stroke="#1c1c1c" stroke-width="0.3" textLength="87.50" lengthAdjust="spacingAndGlyphs">Throughput</text>
<path d="M-153.20,-13.60Q-159.40,-4.70 -153.20,4.20" stroke="#262626" stroke-width="1.25" fill="none"/>
<path d="M-149.20,-8.85L-140.90,-0.55M-149.20,-0.55L-140.90,-8.85" stroke="#2a2a2a" stroke-width="1.15" fill="none"/>
<text x="-136.30" y="0.00" font-family='"Liberation Sans", sans-serif' font-weight="normal" font-size="17.2" fill="#1c1c1c" stroke="#1c1c1c" stroke-width="0.3" textLength="34.70" lengthAdjust="spacingAndGlyphs">1000</text>
<text x="-95.40" y="0.00" font-family='"Liberation Sans", sans-serif' font-weight="normal" font-size="17.2" fill="#1c1c1c" stroke="#1c1c1c" stroke-width="0.3" textLength="65.89" lengthAdjust="spacingAndGlyphs">tokens/s</text>
<path d="M-29.30,-13.60Q-22.90,-4.70 -29.30,4.20" stroke="#262626" stroke-width="1.25" fill="none"/>
</g>
<g transform="translate(19.40,0) rotate(-90)">
<text x="-553.70" y="0.00" font-family='"Liberation Sans", sans-serif' font-weight="normal" font-size="17.2" fill="#1c1c1c" stroke="#1c1c1c" stroke-width="0.3" textLength="65.58" lengthAdjust="spacingAndGlyphs">Speedup</text>
<text x="-484.00" y="0.00" font-family='"Liberation Sans", sans-serif' font-weight="normal" font-size="17.2" fill="#1c1c1c" stroke="#1c1c1c" stroke-width="0.3" textLength="20.31" lengthAdjust="spacingAndGlyphs">vs.</text>
<text x="-454.50" y="0.00" font-family='"Liberation Sans", sans-serif' font-weight="normal" font-size="17.2" fill="#1c1c1c" stroke="#1c1c1c" stroke-width="0.3" textLength="91.61" lengthAdjust="spacingAndGlyphs">Transformer</text>
<path d="M-360.90,-4.40H-350.70M-355.80,-10.34V1.76" stroke="#2a2a2a" stroke-width="1.15" fill="none"/>
<path d="M-347.50,-4.40H-336.00M-341.75,-10.34V1.76" stroke="#2a2a2a" stroke-width="1.15" fill="none"/>
</g>
<text x="35.95" y="643.75" font-family='"Liberation Serif", serif' font-weight="normal" font-size="20" fill="#1a1a1a" stroke="#1a1a1a" stroke-width="0.2" textLength="56.87" lengthAdjust="spacingAndGlyphs">Figure</text>
<text x="100.00" y="643.75" font-family='"Liberation Serif", serif' font-weight="normal" font-size="20" fill="#1a1a1a" stroke="#1a1a1a" stroke-width="0.2" textLength="30.31" lengthAdjust="spacingAndGlyphs">6.3:</text>
<text x="142.20" y="643.75" font-family='"Liberation Serif", serif' font-weight="normal" font-size="20" fill="#1a1a1a" stroke="#1a1a1a" stroke-width="0.2" textLength="77.12" lengthAdjust="spacingAndGlyphs">Training</text>
<text x="225.00" y="643.75" font-family='"Liberation Serif", serif' font-weight="normal" font-size="20" fill="#1a1a1a" stroke="#1a1a1a" stroke-width="0.2" textLength="100.63" lengthAdjust="spacingAndGlyphs">throughput</text>
<text x="333.70" y="643.75" font-family='"Liberation Serif", serif' font-weight="normal" font-size="20" fill="#1a1a1a" stroke="#1a1a1a" stroke-width="0.2" textLength="33.47" lengthAdjust="spacingAndGlyphs">and</text>
<text x="372.70" y="643.75" font-family='"Liberation Serif", serif' font-weight="normal" font-size="20" fill="#1a1a1a" stroke="#1a1a1a" stroke-width="0.2" textLength="82.02" lengthAdjust="spacingAndGlyphs">speedups</text>
<text x="461.90" y="643.75" font-family='"Liberation Serif", serif' font-weight="normal" font-size="20" fill="#1a1a1a" stroke="#1a1a1a" stroke-width="0.2" textLength="53.68" lengthAdjust="spacingAndGlyphs">across</text>
<text x="522.70" y="643.75" font-family='"Liberation Serif", serif' font-weight="normal" font-size="20" fill="#1a1a1a" stroke="#1a1a1a" stroke-width="0.2" textLength="77.29" lengthAdjust="spacingAndGlyphs">sequence</text>
<text x="607.20" y="643.75" font-family='"Liberation Serif", serif' font-weight="normal" font-size="20" fill="#1a1a1a" stroke="#1a1a1a" stroke-width="0.2" textLength="64.97" lengthAdjust="spacingAndGlyphs">lengths</text>
<text x="678.45" y="643.75" font-family='"Liberation Serif", serif' font-weight="normal" font-size="20" fill="#1a1a1a" stroke="#1a1a1a" stroke-width="0.2" textLength="24.67" lengthAdjust="spacingAndGlyphs">for</text>
<text x="709.40" y="643.75" font-family='"Liberation Serif", serif' font-weight="normal" font-size="20" fill="#1a1a1a" stroke="#1a1a1a" stroke-width="0.2" textLength="64.22" lengthAdjust="spacingAndGlyphs">hybrid</text>
<text x="779.90" y="643.75" font-family='"Liberation Serif", serif' font-weight="normal" font-size="20" fill="#1a1a1a" stroke="#1a1a1a" stroke-width="0.2" textLength="57.28" lengthAdjust="spacingAndGlyphs">models</text>
<text x="845.20" y="643.75" font-family='"Liberation Serif", serif' font-weight="normal" font-size="20" fill="#1a1a1a" stroke="#1a1a1a" stroke-width="0.2" textLength="40.12" lengthAdjust="spacingAndGlyphs">(1:1,</text>
<text x="891.60" y="643.75" font-family='"Liberation Serif", serif' font-weight="normal" font-size="20" fill="#1a1a1a" stroke="#1a1a1a" stroke-width="0.2" textLength="39.72" lengthAdjust="spacingAndGlyphs">3:1).</text>
</svg></body></html>
